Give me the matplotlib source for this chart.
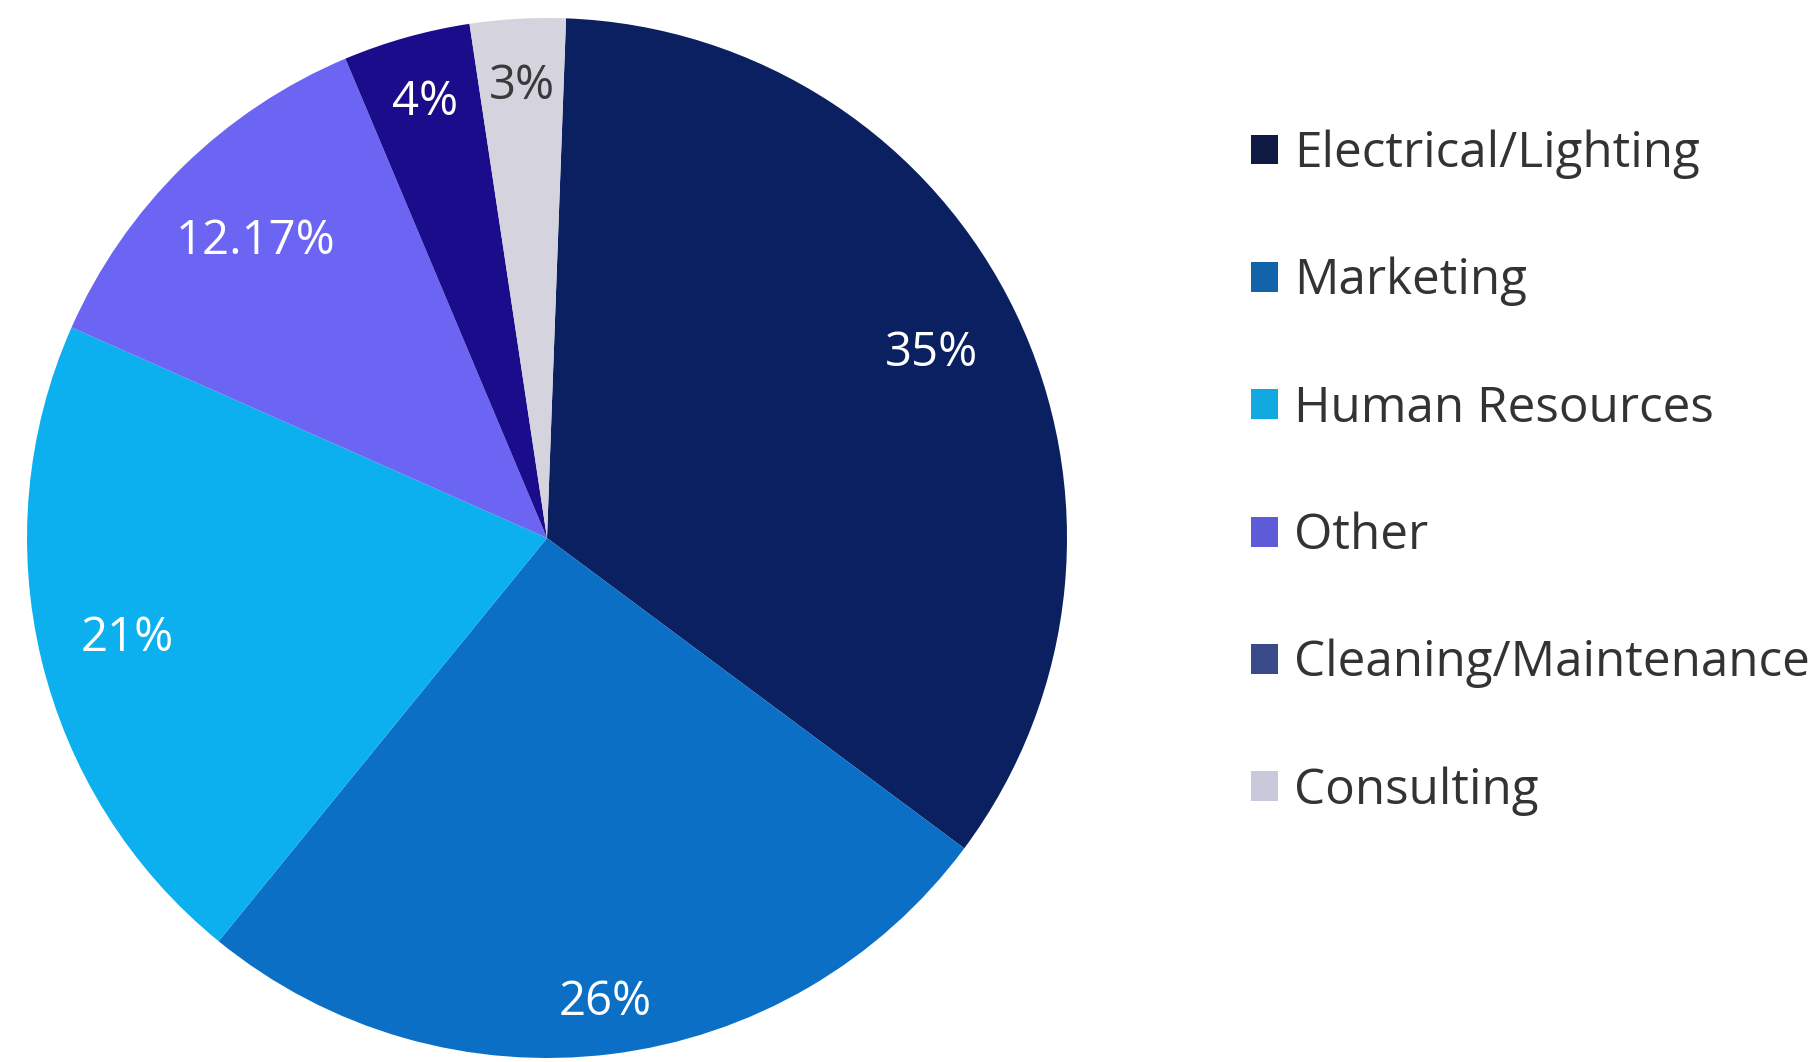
import numpy as np
import matplotlib
matplotlib.use("Agg")
import matplotlib.pyplot as plt
from matplotlib.patches import Patch

categories = ["Electrical/Lighting", "Marketing", "Human Resources", "Other",
              "Cleaning/Maintenance", "Consulting"]
values = [35, 26, 21, 12.17, 4, 3]
labels = ["35%", "26%", "21%", "12.17%", "4%", "3%"]

pie_colors = ["#0a2060", "#0b6fc6", "#0cb0ef", "#6c65f4", "#1b0c8c", "#d5d3de"]
legend_colors = ["#0e1a44", "#1163aa", "#12a8e0", "#5f5ad8", "#3b4a8a", "#c9c9dc"]
label_colors = ["white", "white", "white", "white", "white", "#3a3a3a"]
label_dist = [0.82, 0.90, 0.83, 0.80, 0.87, 0.87]

W, H = 1820, 1062
fig = plt.figure(figsize=(W / 100, H / 100), dpi=100)
fig.patch.set_facecolor("white")

cx, cy, R = 547, 538, 520
ax = fig.add_axes([(cx - R) / W, (H - cy - R) / H, 2 * R / W, 2 * R / H])
wedges, _ = ax.pie(values, colors=pie_colors, startangle=87.9, counterclock=False,
                   radius=1.0, wedgeprops=dict(linewidth=0))
ax.set_xlim(-1, 1)
ax.set_ylim(-1, 1)
ax.set_aspect("equal")
ax.axis("off")

for w, lab, d, c in zip(wedges, labels, label_dist, label_colors):
    ang = np.deg2rad((w.theta1 + w.theta2) / 2)
    ax.text(d * np.cos(ang), d * np.sin(ang), lab, ha="center", va="center",
            color=c, fontsize=34, family=["Open Sans", "DejaVu Sans"])

handles = [Patch(facecolor=c, edgecolor="none") for c in legend_colors]
fig.legend(handles, categories, loc="upper left",
           bbox_to_anchor=(1251 / W, (H - 129.5) / H),
           frameon=False, borderpad=0, borderaxespad=0,
           handlelength=0.55, handleheight=0.55, handletextpad=0.32,
           labelspacing=1.575, labelcolor="#333333",
           prop=dict(family=["Open Sans", "DejaVu Sans"], size=35.6))

fig.savefig("out.png", dpi=100, facecolor="white")
